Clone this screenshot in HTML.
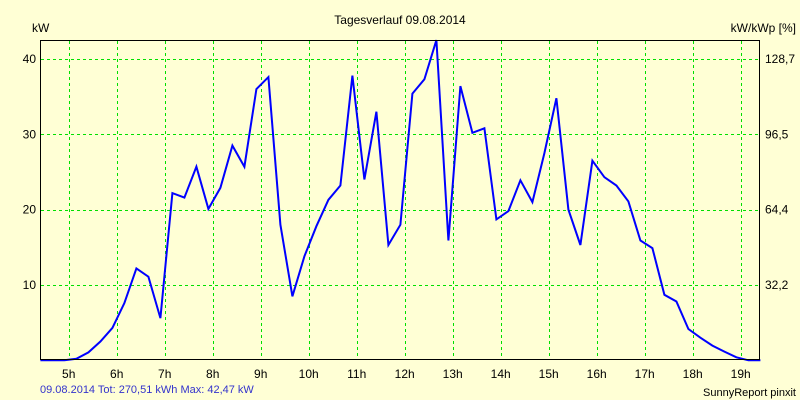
<!DOCTYPE html>
<html><head><meta charset="utf-8"><style>
body{margin:0;background:#FFFFD5;}
svg{display:block;font-family:"Liberation Sans",sans-serif;}
</style></head><body>
<svg id="chart" width="800" height="400">
<rect x="0" y="0" width="800" height="400" fill="#FFFFD5"/>
<text x="400" y="24" font-size="12" text-anchor="middle" fill="#000">Tagesverlauf 09.08.2014</text>
<text x="32" y="32" font-size="12" fill="#000">kW</text>
<text x="796" y="32" font-size="12" text-anchor="end" fill="#000">kW/kWp [%]</text>
<g id="grid" shape-rendering="crispEdges"></g>
<g id="labels"></g>
<polyline id="line" fill="none" stroke="#0000FF" stroke-width="2" stroke-linejoin="miter"/>
<rect x="40.5" y="40.5" width="719" height="319" fill="none" stroke="#000" stroke-width="1" shape-rendering="crispEdges"/>
<text x="40" y="393" font-size="11" fill="#3333CC">09.08.2014 Tot: 270,51 kWh Max: 42,47 kW</text>
<text x="796" y="396" font-size="11" text-anchor="end" fill="#000">SunnyReport pinxit</text>
</svg>
<script>
const hours=[5,6,7,8,9,10,11,12,13,14,15,16,17,18,19];
const yTicks=[10,20,30,40];
const y2Labels=["32,2","64,4","96,5","128,7"];
const startHour=4.41;
const stepHour=0.25;
const values=[0,0,0,0.2,1.05,2.5,4.3,7.6,12.2,11.1,5.6,22.2,21.6,25.7,20.1,22.9,28.5,25.7,36.0,37.6,18,8.5,13.8,17.8,21.3,23.2,37.8,24.0,33.0,15.3,18.0,35.4,37.3,42.5,15.9,36.4,30.2,30.8,18.7,19.8,23.9,21.0,27.5,34.8,20.0,15.3,26.5,24.3,23.2,21.1,15.9,14.9,8.7,7.8,4.15,3.0,1.95,1.15,0.4,0,0];
const X=h=>68.7+(h-5)*48;
const Y=v=>360.3-v*7.533;
const NS='http://www.w3.org/2000/svg';
const grid=document.getElementById('grid'), labels=document.getElementById('labels');
function mk(tag,attrs,parent){const e=document.createElementNS(NS,tag);for(const k in attrs)e.setAttribute(k,attrs[k]);parent.appendChild(e);return e;}
hours.forEach(h=>{
  const x=Math.round(X(h))+0.5;
  const l=mk('line',{x1:x,x2:x,y1:41,y2:359,stroke:'#00E000','stroke-dasharray':'3,3'},grid);
  
  
  const t=mk('text',{x:X(h),y:378,'font-size':12,'text-anchor':'middle',fill:'#000'},labels);
  t.textContent=h+'h';
  
  
});
yTicks.forEach((v,i)=>{
  const y=Math.round(Y(v))+0.5;
  const l=mk('line',{x1:41,x2:759,y1:y,y2:y,stroke:'#00E000','stroke-dasharray':'3,3'},grid);
  
  
  const t=mk('text',{x:36,y:Y(v)+4,'font-size':12,'text-anchor':'end',fill:'#000'},labels);
  t.textContent=v;
  
  
  const t2=mk('text',{x:765,y:Y(v)+4,'font-size':12,fill:'#000'},labels);
  t2.textContent=y2Labels[i];
  
  
});
document.getElementById('line').setAttribute('points',values.map((v,i)=>X(startHour+i*stepHour).toFixed(1)+','+Y(v).toFixed(1)).join(' '));
</script>
</body></html>
